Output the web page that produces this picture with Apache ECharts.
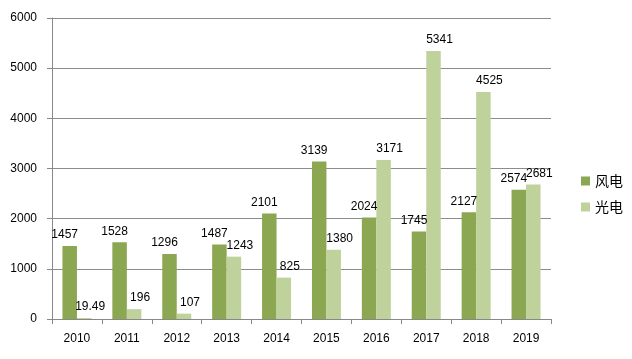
<!DOCTYPE html>
<html><head><meta charset="utf-8">
<script src="https://cdn.jsdelivr.net/npm/echarts@6/dist/echarts.min.js"></script>
<style>html,body{margin:0;padding:0;background:#fff}#c{width:632px;height:359px}</style>
</head><body><div id="c"></div>
<script>
const categories = ['2010','2011','2012','2013','2014','2015','2016','2017','2018','2019'];
const windValues = [1457,1528,1296,1487,2101,3139,2024,1745,2127,2574];
const solarValues = [19.49,196,107,1243,825,1380,3171,5341,4525,2681];
const seriesNames = ['风电','光电'];

const chart = echarts.init(document.getElementById('c'));
const font = '"Liberation Sans", "DejaVu Sans", sans-serif';
function lbl(dx){
  return {show:true, position:'top', distance:5, offset:[dx,0], color:'#000', fontSize:12, fontFamily:font};
}
chart.setOption({
  animation:false,
  backgroundColor:'#fff',
  grid:{left:52, right:81, top:18, bottom:40},
  legend:{orient:'vertical', right:4, top:169, itemWidth:9, itemHeight:9, itemGap:12,
    icon:'rect',
    textStyle:{fontSize:14, color:'#000', fontFamily:'"Noto Sans CJK SC", sans-serif'},
    data:seriesNames},
  xAxis:{type:'category', data:categories,
    axisLine:{lineStyle:{color:'#888'}},
    axisTick:{show:true, length:5, lineStyle:{color:'#888'}},
    axisLabel:{color:'#000', fontSize:12, margin:14, fontFamily:font}},
  yAxis:{type:'value', min:0, max:6000, interval:1000,
    axisLine:{show:true, lineStyle:{color:'#888'}},
    axisTick:{show:true, length:5, lineStyle:{color:'#888'}},
    splitLine:{lineStyle:{color:'#8c8c8c'}},
    axisLabel:{color:'#000', fontSize:12, margin:15, fontFamily:font,
      formatter:function(v){return String(v);}}},
  series:[
    {name:seriesNames[0], type:'bar', data:windValues, barWidth:14.5, barGap:'0%',
      itemStyle:{color:'#8ca752'}, label:lbl(-5)},
    {name:seriesNames[1], type:'bar', data:solarValues, barWidth:14.5,
      itemStyle:{color:'#bfd29c'}, label:lbl(6)}
  ]
});
</script></body></html>
